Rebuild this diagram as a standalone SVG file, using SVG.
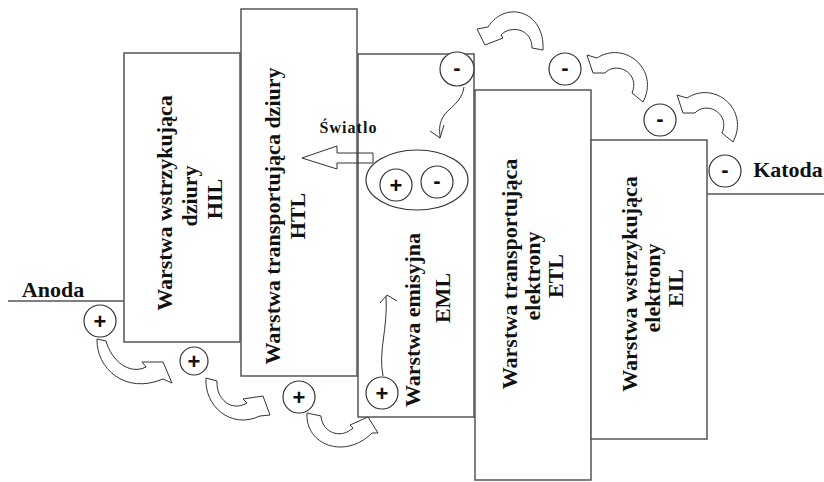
<svg xmlns="http://www.w3.org/2000/svg" width="824" height="482" viewBox="0 0 824 482">
<style>
.box{fill:#fff;stroke:#555;stroke-width:1.5}
.lbl{font-family:"Liberation Serif","Times New Roman",serif;font-weight:bold;font-size:22px;fill:#111;text-anchor:middle}
.ch{fill:#fff;stroke:#333;stroke-width:1.2}
.sg{font-family:"Liberation Sans",Arial,sans-serif;font-weight:bold;font-size:22px;fill:#111;text-anchor:middle}
.fat{fill:#fff;stroke:#333;stroke-width:1}
.thin{fill:none;stroke:#333;stroke-width:1}
.wire{stroke:#555;stroke-width:1.5}
</style>
<rect width="824" height="482" fill="#fff"/>

<g id="HIL">
<rect class="box" x="124" y="53" width="116" height="289"/>
<text class="lbl" transform="translate(172,203) rotate(-90)">Warstwa wstrzykująca</text>
<text class="lbl" transform="translate(197,196) rotate(-90)">dziury</text>
<text class="lbl" transform="translate(222,199) rotate(-90)">HIL</text>
</g>
<g id="HTL">
<rect class="box" x="241" y="9" width="116" height="367"/>
<text class="lbl" transform="translate(280,216) rotate(-90)">Warstwa transportująca dziury</text>
<text class="lbl" transform="translate(305,216) rotate(-90)">HTL</text>
</g>
<g id="EML">
<rect class="box" x="358" y="54" width="116" height="363"/>
<text class="lbl" transform="translate(420,320) rotate(-90)">Warstwa emisyjna</text>
<text class="lbl" transform="translate(450,298) rotate(-90)">EML</text>
</g>
<g id="ETL">
<rect class="box" x="475" y="90" width="116" height="390"/>
<text class="lbl" transform="translate(517,274) rotate(-90)">Warstwa transportująca</text>
<text class="lbl" transform="translate(540,276) rotate(-90)">elektrony</text>
<text class="lbl" transform="translate(563,276) rotate(-90)">ETL</text>
</g>
<g id="EIL">
<rect class="box" x="591" y="140" width="116" height="299"/>
<text class="lbl" transform="translate(637,284) rotate(-90)">Warstwa wstrzykująca</text>
<text class="lbl" transform="translate(660,288) rotate(-90)">elektrony</text>
<text class="lbl" transform="translate(683,288) rotate(-90)">EIL</text>
</g>

<g id="anoda">
<line class="wire" x1="8" y1="301" x2="124" y2="301"/>
<text class="lbl" x="53" y="297">Anoda</text>
</g>
<g id="katoda">
<line class="wire" x1="707" y1="194" x2="824" y2="194"/>
<text class="lbl" x="788" y="177">Katoda</text>
</g>

<g id="connectors">
<path class="fat" d="M 97,339 C 96,368 125,395 163,379 L 172,383 L 163,362 L 142,362 L 146,367 C 130,375 112,362 106,341 Z"/>
<path class="fat" d="M 206,378 C 204,405 230,430 260,416 L 270,415 L 263,396 L 243,399 L 247,403 C 232,412 216,400 217,381 Z"/>
<path class="fat" d="M 307,413 C 305,445 345,460 372,433 L 378,433 L 368,417 L 350,425 L 353,428 C 340,440 322,432 321,416 Z"/>
<path class="fat" d="M 543,50 C 545,10 505,0 488,27 L 477,29 L 485,45 L 503,38 L 501,35 C 510,25 532,28 532,48 Z"/>
<path class="fat" d="M 643,102 C 660,70 625,40 597,58 L 587,55 L 593,73 L 605,73 L 607,71 C 620,62 640,75 632,93 Z"/>
<path class="fat" d="M 733,142 C 750,110 715,80 687,98 L 677,95 L 683,113 L 695,113 L 697,111 C 710,102 730,115 722,133 Z"/>
<path class="thin" d="M 464,87 C 462,103 448,108 443,117 C 438,126 440,132 440,138"/>
<path class="thin" d="M 430,131 L 440,138 L 444,125"/>
<path class="thin" d="M 383,376 C 378,350 388,330 386,296"/>
<path class="thin" d="M 380,303 L 387,295 L 397,301"/>
<path class="thin" d="M 302,158 L 337,146 L 337,153 L 373,153 L 373,163 L 337,163 L 337,169 Z"/>
</g>

<g id="light">
<text class="lbl" style="font-size:16px" x="348" y="133" textLength="57">Światlo</text>
</g>

<g id="exciton">
<ellipse fill="none" stroke="#333" stroke-width="1.2" cx="417" cy="180" rx="51" ry="30"/>
<circle class="ch" cx="396" cy="185" r="16"/>
<text class="sg" x="396" y="193">+</text>
<circle class="ch" cx="437" cy="182" r="16"/>
<text class="sg" x="437" y="188">-</text>
</g>

<g id="holes">
<circle class="ch" cx="100" cy="321" r="16"/>
<text class="sg" x="100" y="329">+</text>
<circle class="ch" cx="194" cy="361" r="14"/>
<text class="sg" x="194" y="369">+</text>
<circle class="ch" cx="299" cy="397" r="16"/>
<text class="sg" x="299" y="405">+</text>
<circle class="ch" cx="382" cy="393" r="16"/>
<text class="sg" x="382" y="401">+</text>
</g>
<g id="electrons">
<circle class="ch" cx="457" cy="69" r="17"/>
<text class="sg" x="457" y="75">-</text>
<circle class="ch" cx="565" cy="69" r="16"/>
<text class="sg" x="565" y="75">-</text>
<circle class="ch" cx="660" cy="120" r="16"/>
<text class="sg" x="660" y="126">-</text>
<circle class="ch" cx="725" cy="171" r="16"/>
<text class="sg" x="725" y="177">-</text>
</g>
</svg>
